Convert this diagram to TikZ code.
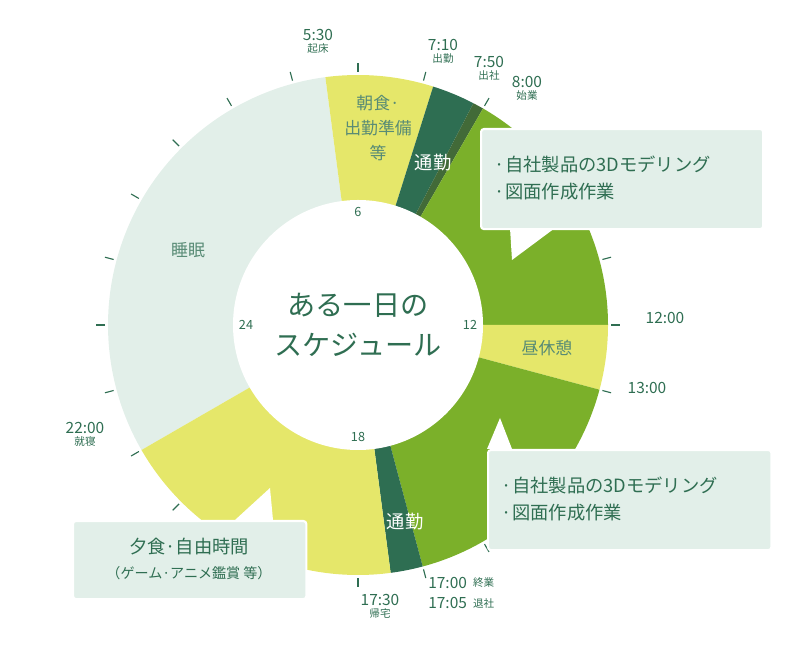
\documentclass[tikz,border=0pt]{standalone}
\usepackage{fontspec}
\setmainfont{Noto Sans CJK JP}
\usetikzlibrary{positioning,calc}
\definecolor{sleepcolor}{HTML}{E2EFE9}
\definecolor{mealcolor}{HTML}{E5E76A}
\definecolor{workcolor}{HTML}{7BB02A}
\definecolor{commutecolor}{HTML}{2E6E52}
\definecolor{arrivecolor}{HTML}{426A38}
\definecolor{inkcolor}{HTML}{2F6E52}
\newcommand{\sector}[3]{\fill[#1] (c) -- ++(#2:250) arc[start angle=#2, end angle=#3, radius=250] -- cycle;}

\begin{document}
\begin{tikzpicture}[
    x=0.025cm, y=0.025cm,
    tick/.style={draw=inkcolor, line width=0.8pt},
    timelbl/.style={text=inkcolor, font=\fontsize{11}{12}\selectfont, inner sep=0pt},
    sublbl/.style={text=inkcolor, font=\fontsize{7.5}{8}\selectfont, inner sep=0pt},
    hourlbl/.style={text=inkcolor, font=\fontsize{9}{10}\selectfont, inner sep=0pt},
    seglbl/.style={text=inkcolor!80, font=\fontsize{12}{14}\selectfont, align=center, inner sep=0pt},
    notebox/.style={rectangle, rounded corners=2pt, draw=white, line width=1.5pt, fill=sleepcolor, inner sep=0pt}
]
\useasboundingbox (0,0) rectangle (800,650);
\coordinate (c) at (358,325);

% sectors
\sector{sleepcolor}{97.5}{210}
\sector{mealcolor}{72.5}{97.5}
\sector{commutecolor}{62.5}{72.5}
\sector{arrivecolor}{60}{62.5}
\sector{workcolor}{0}{60}
\sector{mealcolor}{-15}{0}
\sector{workcolor}{-75}{-15}
\sector{commutecolor}{-82.5}{-75}
\sector{mealcolor}{-150}{-82.5}
\fill[white] (c) circle[radius=125];

% hour ticks
\foreach \h in {0,...,23}
    \draw[tick] ($(c)+(180-15*\h:253)$) -- ($(c)+(180-15*\h:262)$);

% callout pointers
\fill[white] (510,422) -- (555,422) -- (512,390) -- cycle;
\fill[white] (487,201) -- (512,201) -- (500,232) -- cycle;
\fill[white] (235,130) -- (273,130) -- (270,162) -- cycle;

% callout boxes
\node[notebox, minimum width=7.05cm, minimum height=2.5cm, anchor=north west] (work1) at (480,522) {};
\node[anchor=west, text=inkcolor, font=\fontsize{13}{19}\selectfont, align=left] (work1txt) at (490,472) {·自社製品の3Dモデリング\\·図面作成作業};
\node[notebox, minimum width=7.08cm, minimum height=2.5cm, anchor=north west] (work2) at (487,201) {};
\node[anchor=west, text=inkcolor, font=\fontsize{13}{19}\selectfont, align=left] (work2txt) at (497,151) {·自社製品の3Dモデリング\\·図面作成作業};
\node[notebox, minimum width=5.83cm, minimum height=1.95cm, anchor=north west] (dinner) at (72,130) {};
\node[text=inkcolor, font=\fontsize{13}{18}\selectfont, align=center] (dinnertxt) at (189,91) {夕食·自由時間\\{\fontsize{10}{12}\selectfont （ゲーム·アニメ鑑賞 等）}};

% centre
\node[text=inkcolor, font=\fontsize{20}{28}\selectfont, align=center] (title) at (c) {ある一日の\\スケジュール};
\node[hourlbl] (h6) at (358,438) {6};
\node[hourlbl] (h12) at (470,325) {12};
\node[hourlbl] (h18) at (358,213) {18};
\node[hourlbl] (h24) at (246,325) {24};

% sector labels
\node[seglbl] (sleep) at (188,400) {睡眠};
\node[seglbl, font=\fontsize{12}{18}\selectfont] (breakfast) at (378,522) {朝食·\\出勤準備\\等};
\node[seglbl, text=white, font=\fontsize{13}{14}\selectfont] (commute1) at (433,487) {通勤};
\node[seglbl, text=white, font=\fontsize{13}{14}\selectfont] (commute2) at (405,128) {通勤};
\node[seglbl] (lunch) at (547,302) {昼休憩};

% time labels
\node[timelbl] (t0530) at (318,615) {5:30};
\node[sublbl, below=2pt of t0530] (s0530) {起床};
\node[timelbl] (t0710) at (443,605) {7:10};
\node[sublbl, below=2pt of t0710] (s0710) {出勤};
\node[timelbl] (t0750) at (489,588) {7:50};
\node[sublbl, below=2pt of t0750] (s0750) {出社};
\node[timelbl] (t0800) at (527,568) {8:00};
\node[sublbl, below=2pt of t0800] (s0800) {始業};
\node[timelbl] (t1200) at (665,332) {12:00};
\node[timelbl] (t1300) at (647,262) {13:00};
\node[timelbl] (t2200) at (85,222) {22:00};
\node[sublbl, below=2pt of t2200] (s2200) {就寝};
\node[timelbl] (t1730) at (380,50) {17:30};
\node[sublbl, below=2pt of t1730] (s1730) {帰宅};
\node[timelbl, anchor=west] (t1700) at (428,67) {17:00};
\node[sublbl, right=4pt of t1700] (s1700) {終業};
\node[timelbl, anchor=west] (t1705) at (428,47) {17:05};
\node[sublbl, right=4pt of t1705] (s1705) {退社};
\end{tikzpicture}
\end{document}
